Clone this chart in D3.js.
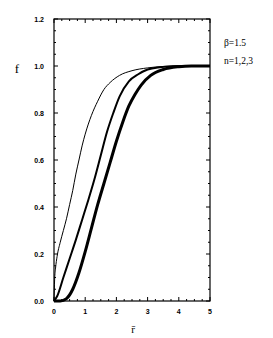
<!DOCTYPE html>
<html><head><meta charset="utf-8">
<script src="https://cdn.jsdelivr.net/npm/d3@7"></script>
<style>body{margin:0;background:#fff}svg{display:block}</style>
</head><body>
<script>
// Data (r, f) for n = 1, 2, 3
const rN1 = [0, 0.02, 0.05, 0.1, 0.2, 0.3, 0.4, 0.5, 0.6, 0.7, 0.8, 0.9, 1.0, 1.2, 1.4, 1.6, 1.8, 2.1, 2.5, 3.0, 3.5, 4.0, 5.0];
const fN1 = [0, 0.09, 0.14, 0.19, 0.25, 0.30, 0.35, 0.41, 0.47, 0.54, 0.60, 0.66, 0.71, 0.79, 0.85, 0.90, 0.93, 0.96, 0.98, 0.992, 0.998, 1.0, 1.0];
const rN2 = [0, 0.1, 0.3, 0.5, 0.7, 0.9, 1.1, 1.3, 1.5, 1.7, 1.9, 2.1, 2.4, 2.7, 3.0, 3.4, 3.8, 4.2, 5.0];
const fN2 = [0, 0.02, 0.10, 0.18, 0.26, 0.345, 0.43, 0.52, 0.62, 0.72, 0.80, 0.87, 0.935, 0.965, 0.985, 0.995, 0.999, 1.0, 1.0];
const rN3 = [0, 0.2, 0.4, 0.6, 0.8, 1.0, 1.2, 1.4, 1.6, 1.8, 2.0, 2.2, 2.4, 2.6, 2.8, 3.1, 3.5, 4.0, 4.4, 5.0];
const fN3 = [0, 0, 0.01, 0.05, 0.12, 0.21, 0.31, 0.41, 0.50, 0.59, 0.68, 0.76, 0.83, 0.88, 0.92, 0.96, 0.985, 0.997, 1.0, 1.0];
const xTicks = [0, 1, 2, 3, 4, 5];
const xTickLabels = ["0", "1", "2", "3", "4", "5"];
const yTicks = [0, 0.2, 0.4, 0.6, 0.8, 1.0, 1.2];
const yTickLabels = ["0.0", "0.2", "0.4", "0.6", "0.8", "1.0", "1.2"];
const legendLines = ["β=1.5", "n=1,2,3"];

const series = [
  {r: rN1, f: fN1, w: 1},
  {r: rN2, f: fN2, w: 2},
  {r: rN3, f: fN3, w: 3}
];

const W = 273, H = 338;
const m = {left: 54, right: 210, top: 19, bottom: 301};
const svg = d3.select("body").append("svg").attr("width", W).attr("height", H);

const x = d3.scaleLinear().domain([0, 5]).range([m.left, m.right]);
const y = d3.scaleLinear().domain([0, 1.2]).range([m.bottom, m.top]);

// minor/major ticks (inward) on all sides
const g = svg.append("g").attr("stroke", "#000").attr("stroke-width", 1);
d3.range(0, 5.001, 0.25).forEach(v => {
  const major = Math.abs(v - Math.round(v)) < 1e-6;
  const L = major ? 4 : 2;
  g.append("line").attr("x1", x(v)).attr("x2", x(v)).attr("y1", m.bottom).attr("y2", m.bottom - L);
  g.append("line").attr("x1", x(v)).attr("x2", x(v)).attr("y1", m.top).attr("y2", m.top + L);
});
d3.range(0, 1.2001, 0.05).forEach(v => {
  const major = Math.abs(v * 5 - Math.round(v * 5)) < 1e-6;
  const L = major ? 4 : 2;
  g.append("line").attr("x1", m.left).attr("x2", m.left + L).attr("y1", y(v)).attr("y2", y(v));
  g.append("line").attr("x1", m.right).attr("x2", m.right - L).attr("y1", y(v)).attr("y2", y(v));
});

svg.append("rect").attr("x", m.left).attr("y", m.top)
  .attr("width", m.right - m.left).attr("height", m.bottom - m.top)
  .attr("fill", "none").attr("stroke", "#000").attr("stroke-width", 1.2);

// curves
const line = d3.line().x(d => x(d[0])).y(d => y(d[1])).curve(d3.curveMonotoneX);
series.forEach(s => {
  const pts = s.r.map((r, i) => [r, s.f[i]]);
  svg.append("path").attr("d", line(pts)).attr("fill", "none")
    .attr("stroke", "#000").attr("stroke-width", s.w).attr("stroke-linejoin", "round");
});

// tick labels
const tl = svg.append("g").attr("font-family", "'Liberation Sans', Arial, sans-serif")
  .attr("font-size", 7).attr("font-weight", "bold").attr("fill", "#000");
xTicks.forEach((v, i) => {
  tl.append("text").attr("x", x(v)).attr("y", 314).attr("text-anchor", "middle").text(xTickLabels[i]);
});
yTicks.forEach((v, i) => {
  tl.append("text").attr("x", 44).attr("y", y(v) + 2.5).attr("text-anchor", "end").text(yTickLabels[i]);
});

// axis titles
svg.append("text").attr("x", 17).attr("y", 73).attr("text-anchor", "middle")
  .attr("font-family", "'Liberation Serif', 'Times New Roman', serif").attr("font-size", 13).text("f");
svg.append("text").attr("x", 133).attr("y", 333).attr("text-anchor", "middle")
  .attr("font-family", "'Liberation Serif', 'Times New Roman', serif").attr("font-size", 11).text("r̄");

// legend
legendLines.forEach((t, i) => {
  svg.append("text").attr("x", 224).attr("y", 46 + i * 18)
    .attr("font-family", "'Liberation Serif', 'Times New Roman', serif").attr("font-size", 9.5).text(t);
});
</script>
</body></html>
